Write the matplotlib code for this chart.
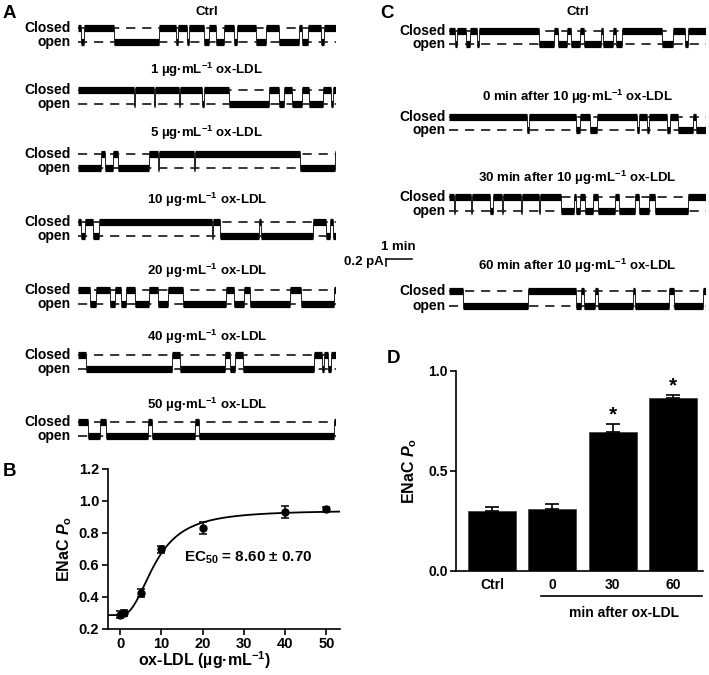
import numpy as np
import matplotlib
matplotlib.use('Agg')
import matplotlib.pyplot as plt
from matplotlib import transforms

plt.rcParams['font.family'] = ['Liberation Sans', 'DejaVu Sans']
plt.rcParams['font.weight'] = 'bold'
plt.rcParams['axes.labelweight'] = 'bold'
plt.rcParams['mathtext.fontset'] = 'custom'
plt.rcParams['mathtext.rm'] = 'Liberation Sans:bold'
plt.rcParams['mathtext.it'] = 'Liberation Sans:italic:bold'
plt.rcParams['mathtext.bf'] = 'Liberation Sans:bold'

# ---- data ----
# single channel traces: open intervals, in % of the trace length
a_titles = ['Ctrl', '1 µg·mL$^{-1}$ ox-LDL', '5 µg·mL$^{-1}$ ox-LDL', '10 µg·mL$^{-1}$ ox-LDL',
            '20 µg·mL$^{-1}$ ox-LDL', '40 µg·mL$^{-1}$ ox-LDL', '50 µg·mL$^{-1}$ ox-LDL']
a_open = [
    [(1, 2.2), (14, 31.3), (37.8, 38.9), (42.4, 43), (48.8, 50.8), (53.4, 56.6), (60.5, 61.8),
     (68.9, 72.8), (78, 85.8), (87, 89), (94.2, 95.5)],
    [(21.6, 22.1), (29.4, 30), (39, 39.5), (48.2, 48.8), (58.5, 74), (78, 80), (83, 87),
     (89.6, 94.8), (98, 98.7)],
    [(0, 9), (10.5, 13.5), (15.5, 27.5), (31, 31.4), (45, 45.3), (86, 99.5)],
    [(1.3, 2.6), (6, 8), (52, 52.5), (55, 70), (71, 91), (96, 97.5), (99, 100)],
    [(4.5, 7), (12.3, 14.2), (16.8, 18.7), (22, 27.4), (31, 34.8), (40.6, 57.4), (60.6, 64.5),
     (66.5, 82), (86.5, 99.4)],
    [(3.2, 36.4), (39.6, 57), (59, 61), (64, 91.5), (94.5, 95.5), (97, 98)],
    [(4, 8.5), (11, 27.3), (28.5, 45.4), (47, 99.3)],
]
c_titles = ['Ctrl', '0 min after 10 µg·mL$^{-1}$ ox-LDL', '30 min after 10 µg·mL$^{-1}$ ox-LDL',
            '60 min after 10 µg·mL$^{-1}$ ox-LDL']
c_open = [
    [(2.5, 3), (6.5, 8), (11, 11.5), (35, 41), (42.5, 46), (47.5, 51), (52.5, 59), (60, 64),
     (65, 67.5), (83, 87), (92, 93)],
    [(30.5, 31), (49.5, 51), (55, 57.5), (73, 74), (77, 78), (85, 86), (89, 95), (96, 100)],
    [(2, 2.4), (8.5, 9), (16, 17), (20.5, 21), (28, 28.4), (35, 35.4), (43.5, 48.5), (49.5, 51),
     (53, 56), (58, 64.5), (66, 72.5), (74, 78), (80, 93)],
    [(5.4, 30.7), (49.5, 51.2), (52.5, 57), (58, 71.6), (72.5, 85.5), (87.5, 99)],
]

# panel B: dose response
conc = [0, 1, 5, 10, 20, 40, 50]
po_mean = [0.288, 0.300, 0.423, 0.696, 0.829, 0.929, 0.946]
po_err = [0.021, 0.020, 0.026, 0.023, 0.037, 0.037, 0.017]
hill_bottom, hill_top, ec50, hill_n = 0.285, 0.94, 8.6, 2.4

# panel D
d_labels = ['Ctrl', '0', '30', '60']
d_mean = [0.30, 0.31, 0.692, 0.865]
d_err = [0.02, 0.025, 0.041, 0.015]
d_sig = [False, False, True, True]

W, H = 709, 675
fig = plt.figure(figsize=(W / 100, H / 100), dpi=100)


def px_axes(x0, y0, x1, y1):
    return fig.add_axes([x0 / W, 1 - y1 / H, (x1 - x0) / W, (y1 - y0) / H])


def draw_trace(x0, x1, ty, yc, yo, openings, title, lab_off):
    sep = yo - yc
    pad = 12
    ax = px_axes(x0, yc - pad, x1, yo + pad)
    ax.set_xlim(0, 100)
    ax.set_ylim(-pad / sep, 1 + pad / sep)
    ax.axis('off')
    for lev in (0, 1):
        ax.plot([0, 100], [lev, lev], color='k', lw=1.1, dashes=(6, 4.5), zorder=1)
    starts, ends, levs, trans = [], [], [], []
    t = 0
    for s, e in openings:
        if s > t:
            starts.append(t); ends.append(s); levs.append(1)
        starts.append(s); ends.append(e); levs.append(0)
        trans += [s, e]
        t = e
    if t < 100:
        starts.append(t); ends.append(100); levs.append(1)
    ax.hlines(levs, starts, ends, color='k', lw=5.2, zorder=3)
    trans = [x for x in trans if 0 < x < 100]
    ax.vlines(trans, -0.12, 1.12, color='#222222', lw=0.7, zorder=3)
    ax.text(-lab_off, 1, 'Closed', ha='right', va='center', fontsize=10, clip_on=False)
    ax.text(-lab_off, 0, 'open', ha='right', va='center', fontsize=10, clip_on=False)
    ax.text(50, 1 + (yc - ty) / sep, title, ha='center', va='center', fontsize=9.5, clip_on=False)


# layout (pixels): title y, closed y, open y
a_rows = [(12, 28, 42), (70, 90, 104), (133, 154, 168), (200, 222, 236),
          (271, 290, 304), (337, 355, 369), (405, 422, 436)]
c_rows = [(12, 31, 44), (97, 117, 130), (178, 197, 211), (266, 291, 306)]

for (ty, yc, yo), op, ttl in zip(a_rows, a_open, a_titles):
    draw_trace(78, 336, ty, yc, yo, op, ttl, 2.8)
for (ty, yc, yo), op, ttl in zip(c_rows, c_open, c_titles):
    draw_trace(449, 706, ty, yc, yo, op, ttl, 1.4)

# overlay in pixel coords for scale bar and panel letters
ov = fig.add_axes([0, 0, 1, 1], zorder=-1)
ov.set_xlim(0, W)
ov.set_ylim(H, 0)
ov.axis('off')
ov.plot([386, 412], [259.3, 259.3], color='k', lw=1.1)
ov.plot([386, 386], [259.3, 265.5], color='k', lw=1.1)
ov.text(398.5, 246.7, '1 min', ha='center', va='center', fontsize=9.5)
ov.text(384, 262, '0.2 pA', ha='right', va='center', fontsize=9.5)
for lbl, x, y in [('A', 3, 13.5), ('B', 3, 471.5), ('C', 380, 13), ('D', 387, 358.5)]:
    ov.text(x, y, lbl, ha='left', va='center', fontsize=13.5)


def style(ax):
    for s in ('top', 'right'):
        ax.spines[s].set_visible(False)
    for s in ('left', 'bottom'):
        ax.spines[s].set_linewidth(1.2)
    ax.tick_params(direction='out', length=4, width=1.2, labelsize=10.5, pad=2)


# ---- panel B ----
axb = px_axes(107.7, 468.7, 340, 628.7)
style(axb)
xs = np.linspace(-3, 53.3, 400)
fit = hill_bottom + (hill_top - hill_bottom) / (1 + (ec50 / np.clip(xs, 1e-6, None)) ** hill_n)
axb.plot(xs, fit, color='k', lw=1.3)
axb.errorbar(conc, po_mean, yerr=po_err, fmt='o', color='k', ms=5, capsize=2.8,
             elinewidth=1.1, capthick=1.1)
axb.set_xlim(-3, 53.3)
axb.set_ylim(0.2, 1.2)
axb.set_xticks([0, 10, 20, 30, 40, 50])
yt = [0.2, 0.4, 0.6, 0.8, 1.0, 1.2]
axb.set_yticks(yt)
axb.set_yticklabels(['%.1f' % v for v in yt])
axb.set_ylabel('ENaC $\\mathit{P}_\\mathrm{o}$', fontsize=11.5)
axb.yaxis.set_label_coords(-0.145, 0.5)
axb.set_xlabel('ox-LDL (µg·mL$^{-1}$)', fontsize=11.5)
axb.xaxis.set_label_coords(0.419, -0.13)
axb.text(15.5, 0.64, 'EC$_{50}$ = 8.60 ± 0.70', ha='left', va='center', fontsize=11)

# ---- panel D ----
axd = px_axes(456, 370.7, 703, 570.7)
style(axd)
pos = np.arange(len(d_labels))
axd.bar(pos, d_mean, width=0.8, color='k', edgecolor='#444444', lw=0.6)
axd.errorbar(pos, d_mean, yerr=[np.zeros(len(d_err)), d_err], fmt='none', ecolor='k',
             capsize=5, elinewidth=1.2, capthick=1.2)
for i in range(len(d_labels)):
    if d_sig[i]:
        axd.text(pos[i], d_mean[i] + d_err[i] + 0.045, '*', ha='center', va='center', fontsize=15)
axd.set_xlim(-0.6, 3.5)
axd.set_ylim(0, 1.0)
axd.set_yticks([0, 0.5, 1.0])
axd.set_yticklabels(['0.0', '0.5', '1.0'])
axd.set_xticks(pos)
axd.set_xticklabels(d_labels)
axd.tick_params(axis='x', length=0, pad=5, labelsize=10)
axd.tick_params(axis='y', labelsize=10)
axd.set_ylabel('ENaC $\\mathit{P}_\\mathrm{o}$', fontsize=11.5)
axd.yaxis.set_label_coords(-0.15, 0.5)
tr = transforms.blended_transform_factory(axd.transData, axd.transAxes)
axd.plot([0.81, 3.48], [-0.127, -0.127], color='k', lw=1.2, transform=tr, clip_on=False)
axd.text(2.19, -0.21, 'min after ox-LDL', ha='center', va='center', fontsize=10,
         transform=tr)

fig.savefig('out.png', dpi=100)
